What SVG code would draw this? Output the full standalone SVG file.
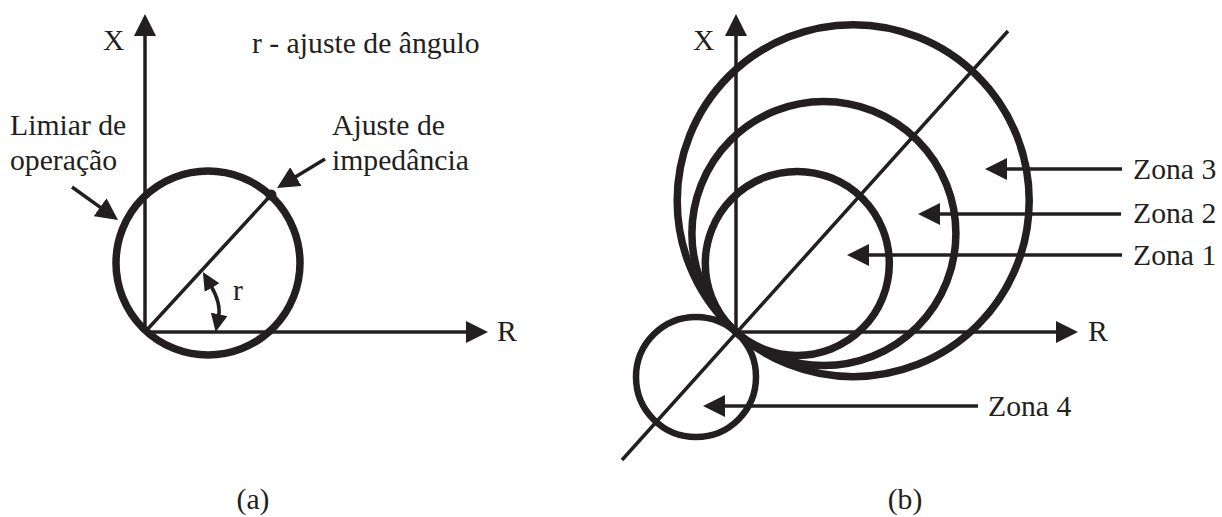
<svg xmlns="http://www.w3.org/2000/svg" width="1222" height="517" viewBox="0 0 1222 517">
<style>
.ln{stroke:#231f20;stroke-width:3.5;fill:none}
.ax{stroke:#231f20;stroke-width:3.5;fill:none;marker-end:url(#ah)}
.ar{stroke:#231f20;stroke-width:3.5;fill:none;marker-end:url(#ah)}
.c{stroke:#231f20;stroke-width:7.5;fill:none}
.t{font-family:'Liberation Serif','DejaVu Serif',serif;font-size:29.7px;fill:#231f20}
</style>
<defs>
<marker id="ah" markerUnits="userSpaceOnUse" markerWidth="22" markerHeight="22" refX="5" refY="11" orient="auto" viewBox="0 0 22 22">
<path d="M0,0 L22,11 L0,22 z" fill="#231f20"/>
</marker>
<marker id="sm" markerUnits="userSpaceOnUse" markerWidth="18" markerHeight="17" refX="3" refY="8.5" orient="auto-start-reverse" viewBox="0 0 18 17">
<path d="M0,0 L18,8.5 L0,17 z" fill="#231f20"/>
</marker>
</defs>
<rect width="1222" height="517" fill="#fff"/>
<g id="diagram-a">
<g id="a-circle"><circle class="c" cx="208" cy="263" r="92"/></g>
<g id="a-dot"><circle cx="271" cy="195" r="5.5" fill="#231f20"/></g>
<g id="a-labels" class="t" font-family="Liberation Serif, serif">
<text x="103" y="50">X</text>
<text x="252" y="53">r - ajuste de ângulo</text>
<text x="10" y="135">Limiar de</text>
<text x="10" y="170">operação</text>
<text x="332" y="135">Ajuste de</text>
<text x="332" y="170">impedância</text>
<text x="233" y="300">r</text>
<text x="497" y="341">R</text>
<text x="253" y="509" text-anchor="middle">(a)</text>
</g>
</g>
<g id="diagram-b">
<g id="zona1-circle"><circle class="c" cx="797.3" cy="263.4" r="92"/></g>
<g id="zona2-circle"><circle class="c" cx="823.9" cy="233.5" r="132"/></g>
<g id="zona3-circle"><circle class="c" cx="853.2" cy="200.7" r="176"/></g>
<g id="zona4-circle"><circle class="c" cx="696" cy="377" r="60" style="stroke-width:6.5"/></g>
<g id="b-labels" class="t" font-family="Liberation Serif, serif">
<text x="693" y="50">X</text>
<text x="1088" y="341">R</text>
<text x="1133" y="179">Zona 3</text>
<text x="1133" y="223">Zona 2</text>
<text x="1133" y="265">Zona 1</text>
<text x="988" y="416">Zona 4</text>
<text x="905" y="509" text-anchor="middle">(b)</text>
</g>
</g>
<g id="connectors">
<line class="ax" x1="145" y1="332" x2="145" y2="31"/>
<line class="ax" x1="145" y1="332" x2="471" y2="332"/>
<line class="ln" x1="145" y1="332" x2="271" y2="195"/>
<line class="ar" x1="72" y1="187" x2="104.2" y2="210.1"/>
<line class="ar" x1="325" y1="159" x2="291.6" y2="179.2"/>
<path class="ln" d="M210.5,285 Q221.4,303.5 218.6,317.3" style="marker-start:url(#sm);marker-end:url(#sm)"/>
<line class="ax" x1="736" y1="332" x2="736" y2="31"/>
<line class="ax" x1="736" y1="332" x2="1061" y2="332"/>
<line class="ln" x1="622" y1="460" x2="1008" y2="31"/>
<line class="ar" x1="1122" y1="169" x2="1002" y2="169"/>
<line class="ar" x1="1121" y1="214" x2="935" y2="214"/>
<line class="ar" x1="1122" y1="255" x2="864" y2="255"/>
<line class="ar" x1="978" y1="406" x2="720" y2="406"/>
</g>
</svg>
